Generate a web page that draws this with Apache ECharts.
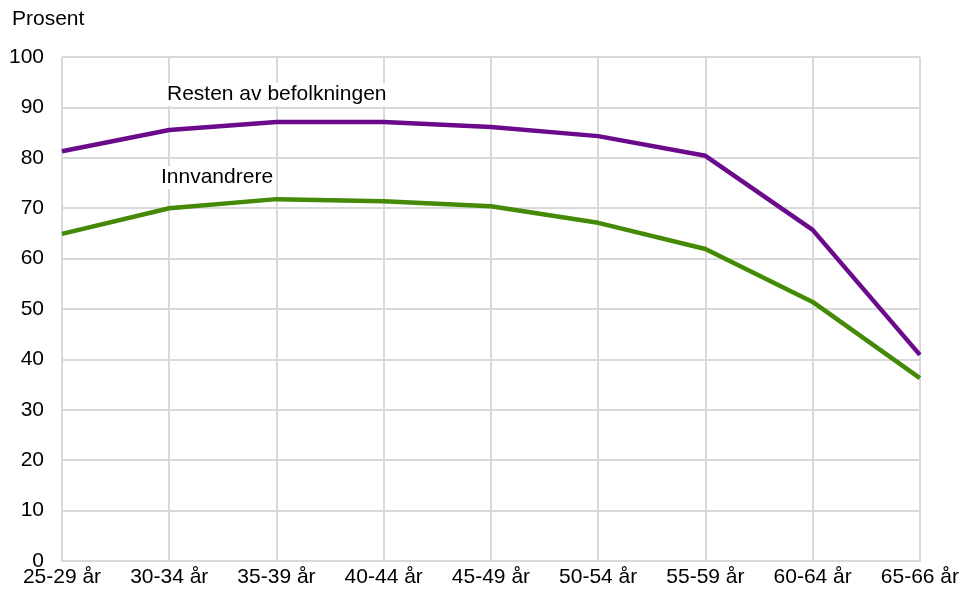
<!DOCTYPE html>
<html>
<head>
<meta charset="utf-8">
<script src="https://cdn.jsdelivr.net/npm/echarts@6/dist/echarts.min.js"></script>
<style>
  html, body { margin: 0; padding: 0; background: #fff; }
  #chart { width: 962px; height: 589px; }
</style>
</head>
<body>
<div id="chart"></div>
<script>
const ageGroups = ['25-29 år', '30-34 år', '35-39 år', '40-44 år', '45-49 år', '50-54 år', '55-59 år', '60-64 år', '65-66 år'];
const restenAvBefolkningen = [81.3, 85.5, 87.1, 87.1, 86.1, 84.3, 80.4, 65.7, 40.9];
const innvandrere = [64.9, 70.0, 71.8, 71.4, 70.4, 67.1, 61.9, 51.4, 36.3];

const font = 'Liberation Sans, Arial, sans-serif';
const gridColor = '#d9d9d9';

const chart = echarts.init(document.getElementById('chart'));
chart.setOption({
  animation: false,
  grid: { left: 62, right: 42, top: 57, bottom: 28 },
  xAxis: {
    type: 'category',
    data: ageGroups,
    boundaryGap: false,
    axisLine: { lineStyle: { color: gridColor, width: 2 } },
    axisTick: { show: false },
    axisLabel: { color: '#000', fontFamily: font, fontSize: 21, margin: 6, interval: 0 },
    splitLine: { show: true, interval: 0, lineStyle: { color: gridColor, width: 2 } }
  },
  yAxis: {
    type: 'value',
    min: 0,
    max: 100,
    interval: 10,
    axisLine: { show: false },
    axisTick: { show: false },
    axisLabel: { color: '#000', fontFamily: font, fontSize: 21, margin: 18 },
    splitLine: { lineStyle: { color: gridColor, width: 2 } }
  },
  series: [
    {
      name: 'Resten av befolkningen',
      type: 'line',
      data: restenAvBefolkningen,
      symbol: 'none',
      lineStyle: { color: '#6b0a8b', width: 4.5 },
      z: 3
    },
    {
      name: 'Innvandrere',
      type: 'line',
      data: innvandrere,
      symbol: 'none',
      lineStyle: { color: '#448a06', width: 4.5 },
      z: 3
    }
  ],
  graphic: [
    { type: 'text', left: 12, top: 9,
      style: { text: 'Prosent', font: '21px ' + font, fill: '#000' } },
    { type: 'text', left: 165, top: 83, z: 10,
      style: { text: 'Resten av befolkningen', font: '21px ' + font, fill: '#000', backgroundColor: '#fff', padding: [1, 2] } },
    { type: 'text', left: 159, top: 166, z: 10,
      style: { text: 'Innvandrere', font: '21px ' + font, fill: '#000', backgroundColor: '#fff', padding: [1, 2] } }
  ]
});
</script>
</body>
</html>
